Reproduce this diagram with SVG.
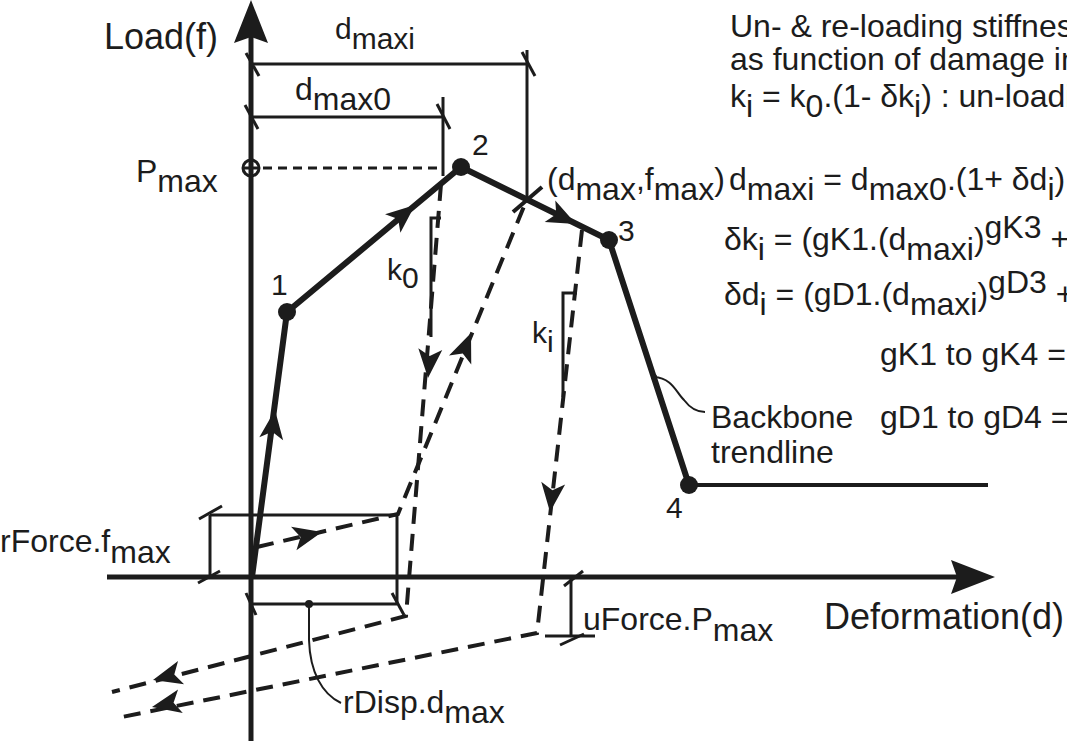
<svg xmlns="http://www.w3.org/2000/svg" width="1067" height="741" viewBox="0 0 1067 741">
<defs>
<style>
text{font-family:"Liberation Sans",Arial,Helvetica,sans-serif;fill:#1c1c1c}
.t32{font-size:32px}
.t30{font-size:30px}
.t36{font-size:36px}
.axis{stroke:#1c1c1c;stroke-width:5;fill:none}
.bb{stroke:#1c1c1c;stroke-width:6;fill:none;stroke-linejoin:round}
.bbh{stroke:#1c1c1c;stroke-width:4;fill:none}
.dim{stroke:#1c1c1c;stroke-width:3;fill:none}
.thin{stroke:#1c1c1c;stroke-width:2;fill:none}
.dash{stroke:#1c1c1c;stroke-width:4;fill:none;stroke-dasharray:17 10}
.dotl{stroke:#1c1c1c;stroke-width:3;fill:none;stroke-dasharray:9 6}
.pt{fill:#1c1c1c}
</style>
<path id="ah" d="M0,0 L-29,-12 L-22,0 L-29,12 Z" fill="#1c1c1c"/>
</defs>
<rect width="1067" height="741" fill="#ffffff"/>

<g id="axes">
<line class="axis" x1="251" y1="30" x2="251" y2="741"/>
<path d="M251,0 L234,43 L251,37 L268,43 Z" fill="#1c1c1c"/>
<line class="axis" x1="107" y1="577" x2="960" y2="577"/>
<path d="M995,577 L951,560 L957,577 L951,594 Z" fill="#1c1c1c"/>
<text class="t36" x="218" y="49" text-anchor="end">Load(f)</text>
<text class="t36" x="1064" y="629" text-anchor="end">Deformation(d)</text>
</g>

<g id="connectors">
<polyline class="bb" points="252,577 287,312 461,167 609,240 689,485"/>
<line class="bbh" x1="689" y1="485" x2="988" y2="485"/>
<use href="#ah" transform="translate(275,410) rotate(-82.5)"/>
<use href="#ah" transform="translate(415,205) rotate(-39.8)"/>
<use href="#ah" transform="translate(576,224) rotate(26.2)"/>
<polyline class="dash" points="441,184 406,616 112,692"/>
<polyline class="dash" points="582,230 537,633 117,718"/>
<polyline class="dash" points="257,547 398,514 527,199"/>
<use href="#ah" transform="translate(428,378) rotate(94.5)"/>
<use href="#ah" transform="translate(471,333) rotate(-68)"/>
<use href="#ah" transform="translate(550,512) rotate(96.3)"/>
<use href="#ah" transform="translate(322,532) rotate(-13)"/>
<use href="#ah" transform="translate(153,680) rotate(165.4)"/>
<use href="#ah" transform="translate(152,707) rotate(168.6)"/>
</g>

<g id="node-1">
<circle class="pt" cx="287" cy="312" r="9"/>
<text class="t30" x="271" y="295">1</text>
</g>
<g id="node-2">
<circle class="pt" cx="461" cy="167" r="9"/>
<text class="t30" x="472" y="155">2</text>
</g>
<g id="node-3">
<circle class="pt" cx="609" cy="240" r="9"/>
<text class="t30" x="618" y="241">3</text>
</g>
<g id="node-4">
<circle class="pt" cx="689" cy="485" r="9"/>
<text class="t30" x="666" y="518">4</text>
</g>

<g id="pmax">
<circle cx="251" cy="168" r="8" fill="none" stroke="#1c1c1c" stroke-width="3"/>
<line class="dim" x1="243" y1="168" x2="259" y2="168"/>
<line class="dotl" x1="263" y1="168" x2="442" y2="168"/>
<text class="t32" x="136" y="182">P<tspan dy="10">max</tspan></text>
</g>

<g id="dim-dmaxi">
<line class="dim" x1="251" y1="64" x2="527" y2="64"/>
<line class="dim" x1="527" y1="50" x2="527" y2="198"/>
<line class="dim" x1="246" y1="53" x2="259" y2="76"/>
<line class="dim" x1="522" y1="52" x2="535" y2="76"/>
<line x1="513" y1="212" x2="542" y2="187" stroke="#1c1c1c" stroke-width="4"/>
<text class="t30" x="335" y="39">d<tspan dy="10">maxi</tspan></text>
</g>

<g id="dim-dmax0">
<line class="dim" x1="251" y1="117" x2="443" y2="117"/>
<line class="dim" x1="443" y1="97" x2="443" y2="176"/>
<line class="dim" x1="245" y1="105" x2="258" y2="129"/>
<line class="dim" x1="437" y1="104" x2="450" y2="129"/>
<text class="t32" x="295" y="100">d<tspan dy="10">max0</tspan></text>
</g>

<g id="k0">
<polyline class="dim" points="441,218 431,218 431,337"/>
<text class="t30" x="387" y="280">k<tspan dy="8">0</tspan></text>
</g>
<g id="ki">
<polyline class="dim" points="577,293 563,293 563,397"/>
<text class="t30" x="532" y="343">k<tspan dy="9">i</tspan></text>
</g>

<g id="rforce">
<line class="dim" x1="210" y1="515" x2="210" y2="577"/>
<line class="dim" x1="210" y1="515" x2="397" y2="515"/>
<line class="dim" x1="199" y1="519" x2="222" y2="506"/>
<line class="dim" x1="198" y1="583" x2="220" y2="571"/>
<text class="t32" x="0" y="552">rForce.f<tspan dy="11">max</tspan></text>
</g>

<g id="rdisp">
<line class="dim" x1="397" y1="515" x2="397" y2="604"/>
<line class="dim" x1="251" y1="604" x2="397" y2="604"/>
<line class="dim" x1="246" y1="593" x2="256" y2="615"/>
<line class="dim" x1="392" y1="593" x2="404" y2="615"/>
<circle class="pt" cx="309" cy="604" r="4"/>
<path class="thin" d="M309,604 L309,640 C310,672 322,694 341,703"/>
<text class="t32" x="343" y="713">rDisp.d<tspan dy="10">max</tspan></text>
</g>

<g id="uforce">
<line class="dim" x1="571" y1="577" x2="571" y2="636"/>
<line class="dim" x1="564" y1="586" x2="583" y2="571"/>
<line class="dim" x1="545" y1="636" x2="595" y2="636"/>
<line class="dim" x1="560" y1="645" x2="584" y2="634"/>
<text class="t32" x="583" y="630">uForce.P<tspan dy="11">max</tspan></text>
</g>

<g id="backbone-label">
<circle class="pt" cx="654" cy="377" r="3"/>
<path class="thin" d="M654,377 C672,378 676,392 684,400 C690,408 696,412 705,412"/>
<text class="t32" x="711" y="428">Backbone</text>
<text class="t32" x="711" y="463">trendline</text>
</g>

<g id="dmaxfmax">
<text class="t32" x="547" y="190">(d<tspan dy="10">max</tspan><tspan dy="-10">,f</tspan><tspan dy="10">max</tspan><tspan dy="-10">)</tspan></text>
</g>

<g id="equations">
<text class="t32" x="730" y="37">Un- &amp; re-loading stiffnes</text>
<text class="t32" x="730" y="70">as function of damage in</text>
<text class="t32" x="730" y="107">k<tspan dy="10">i</tspan><tspan dy="-10"> = k</tspan><tspan dy="10">0</tspan><tspan dy="-10">.(1- δk</tspan><tspan dy="10">i</tspan><tspan dy="-10">) : un-loadi</tspan></text>
<text class="t32" x="729" y="190">d<tspan dy="10">maxi</tspan><tspan dy="-10"> = d</tspan><tspan dy="10">max0</tspan><tspan dy="-10">.(1+ δd</tspan><tspan dy="10">i</tspan><tspan dy="-10">)</tspan></text>
<text class="t32" x="724" y="250">δk<tspan dy="10">i</tspan><tspan dy="-10"> = (gK1.(d</tspan><tspan dy="10">maxi</tspan><tspan dy="-10">)</tspan><tspan dy="-12">gK3</tspan><tspan dy="12"> +</tspan></text>
<text class="t32" x="724" y="305">δd<tspan dy="10">i</tspan><tspan dy="-10"> = (gD1.(d</tspan><tspan dy="10">maxi</tspan><tspan dy="-10">)</tspan><tspan dy="-12">gD3</tspan><tspan dy="12"> +</tspan></text>
<text class="t32" x="880" y="365">gK1 to gK4 =</text>
<text class="t32" x="880" y="428">gD1 to gD4 =</text>
</g>
</svg>
